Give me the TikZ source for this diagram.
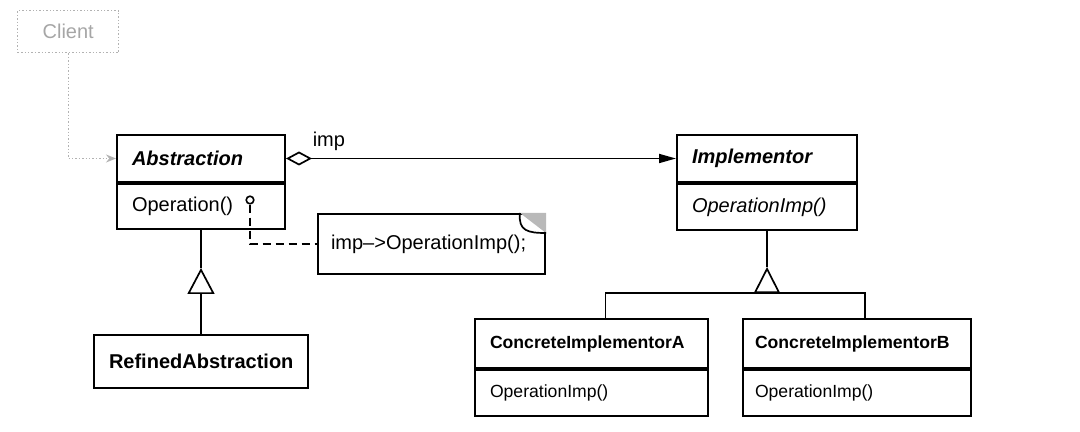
\documentclass[tikz,border=0pt]{standalone}
\usepackage{fontspec}
\setmainfont{Liberation Sans}
\usetikzlibrary{positioning, arrows.meta}
\tikzset{basic/.style={draw,line width=1pt,inner xsep=7.5pt,inner ysep=2pt,align=left}}
\tikzset{classhead/.style={basic,minimum height=23.5pt}}
\tikzset{classbody/.style={basic,minimum height=22.5pt}}
\tikzset{concrete/.style={basic,font=\fontsize{8.8}{10.5}\selectfont,text width=101.5pt}}
\tikzset{umlnote/.style={basic,minimum height=30pt,text width=100.5pt,inner xsep=6.5pt}}
\tikzset{client/.style={draw=gray!60,densely dotted,line width=0.7pt,text=gray!70,minimum width=50.5pt,minimum height=21pt}}
\tikzset{link/.style={line width=0.85pt}}

\begin{document}
\begin{tikzpicture}[x=0.5pt,y=-0.5pt,font=\fontsize{10}{12}\selectfont]
\useasboundingbox (0,0) rectangle (1080,432);

% Define client
\node[client, anchor=north west] (client) at (17,10) {Client};

% Abstraction class
\node[classhead, text width=69pt, anchor=north west] (abshead) at (116,134) {\textbf{\textit{Abstraction}}};
\node[classbody, text width=69pt, below=0pt of abshead] (absbody) {Operation()};
\node[draw, circle, line width=0.8pt, minimum size=3.8pt, inner sep=0pt] (opdot) at (250,200) {};

% Implementor class
\node[classhead, text width=75pt, anchor=north west] (imphead) at (676,134) {\textbf{\textit{Implementor}}};
\node[classbody, text width=75pt, minimum height=23pt, below=0pt of imphead] (impbody) {\textit{OperationImp()}};

% Refined abstraction
\coordinate[below=19pt of absbody] (gen1);
\node[basic, align=center, text width=92pt, minimum height=26.5pt, below=33pt of gen1] (refined) {\textbf{RefinedAbstraction}};

% Concrete implementors
\node[concrete, minimum height=24.5pt, anchor=north west] (conAhead) at (474,318) {\textbf{ConcreteImplementorA}};
\node[concrete, minimum height=23pt, below=0pt of conAhead] (conAbody) {OperationImp()};
\node[concrete, text width=102pt, inner xsep=6pt, minimum height=24.5pt, anchor=north west] (conBhead) at (742,318) {\textbf{ConcreteImplementorB}};
\node[concrete, text width=102pt, inner xsep=6pt, minimum height=23pt, below=0pt of conBhead] (conBbody) {OperationImp()};

% Note with folded corner
\node[umlnote, anchor=north west] (note) at (317,213) {imp–>OperationImp();};
\fill[gray!55] ([xshift=-13pt]note.north east) -- (note.north east) -- ([yshift=-10pt]note.north east) -- cycle;
\path[draw,link] ([xshift=-13pt]note.north east) .. controls ([xshift=-14pt,yshift=-9pt]note.north east) and ([xshift=-9pt,yshift=-10pt]note.north east) .. ([yshift=-10pt]note.north east);

% Draw lines
\path[draw, gray!60, densely dotted, line width=0.7pt, -{Stealth[length=5pt,width=4pt]}] (client) |- (abshead);
\path[draw, link, {Diamond[open,length=13pt,width=7pt]}-{Triangle[length=8.5pt,width=4.5pt]}] (abshead.east) -- node[above, pos=0.11] (implabel) {imp} (abshead.east -| imphead.west);
\path[draw, link, dash pattern=on 4pt off 2.5pt] (opdot) |- (note);

% Inheritance of abstraction
\path[draw, link, -{Triangle[open,length=13pt,width=13.5pt]}] (refined) -- (gen1);
\path[draw, link] (gen1) -- (absbody);

% Inheritance of implementor
\coordinate[below=18pt of impbody] (gen2);
\coordinate[below=13pt of gen2] (fork);
\path[draw, link] (impbody) -- (gen2);
\path[draw, link, -{Triangle[open,length=13pt,width=13pt]}] (fork) -- (gen2);
\path[draw, link] ([xshift=7pt]conAhead.north) |- (fork) -| ([xshift=4pt]conBhead.north);

\end{tikzpicture}
\end{document}
